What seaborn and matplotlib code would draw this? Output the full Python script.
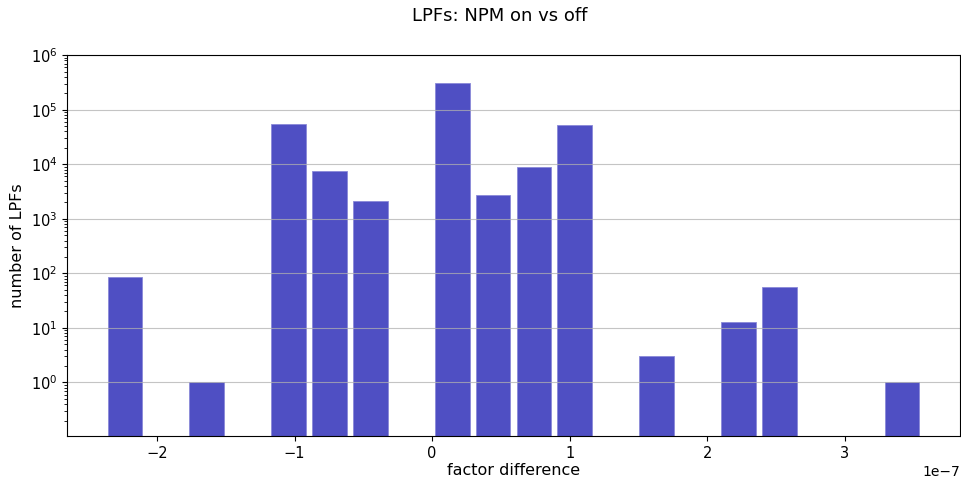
import matplotlib
matplotlib.use("Agg")
import matplotlib.pyplot as plt
import seaborn as sns
import numpy as np
import pandas as pd

# bin centres (factor difference) of the non-empty bins and their counts
factor_diff = [-2.234e-7, -1.639e-7, -1.044e-7, -0.747e-7, -0.449e-7,
               0.146e-7, 0.443e-7, 0.741e-7, 1.038e-7,
               1.633e-7, 2.228e-7, 2.526e-7, 3.418e-7]
counts = [86, 1, 54000, 7400, 2150,
          307000, 2780, 9100, 51800,
          3, 13, 56, 1]

bin_edges = np.linspace(-2.383e-7, 3.567e-7, 21).tolist()

df = pd.DataFrame({'diff': factor_diff, 'n': counts})

fig, ax = plt.subplots(figsize=(9.61, 4.8), dpi=100)
fig.subplots_adjust(left=0.0697, right=0.999, top=0.885, bottom=0.092)

sns.histplot(data=df, x='diff', weights='n', bins=bin_edges, shrink=0.85,
             color='#0504aa', alpha=0.7, edgecolor='#8a89d8', linewidth=0.6,
             ax=ax)
ax.set_yscale('log')
ax.set_ylim(0.105, 1e6)
ax.grid(axis='y', alpha=0.75)

ax.set_xlabel('factor difference', fontsize=11.5, labelpad=1.5)
ax.set_ylabel('number of LPFs', fontsize=11.5)
ax.yaxis.set_label_coords(-0.047, 0.5)
ax.tick_params(labelsize=10.5)
ax.xaxis.get_offset_text().set_fontsize(10)
fig.suptitle('LPFs: NPM on vs off', fontsize=13, x=0.52, y=0.985)

plt.savefig('out.png')
plt.close()
